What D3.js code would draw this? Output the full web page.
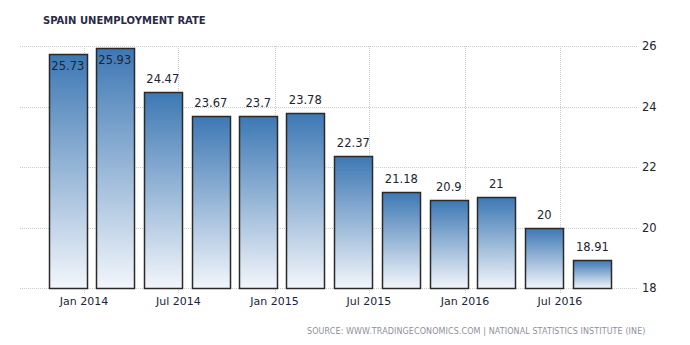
<!DOCTYPE html>
<html>
<head>
<meta charset="utf-8">
<script src="https://cdn.jsdelivr.net/npm/d3@7"></script>
<style>
  body { margin: 0; background: #fff; }
  text { font-family: "DejaVu Sans", Verdana, sans-serif; }
</style>
</head>
<body>
<div id="chart"></div>
<script>
// quarterly data, bars centred on these months
const quarters = ["2013-12", "2014-03", "2014-06", "2014-09", "2014-12", "2015-03",
                  "2015-06", "2015-09", "2015-12", "2016-03", "2016-06", "2016-09"];
const rates = [25.73, 25.93, 24.47, 23.67, 23.7, 23.78, 22.37, 21.18, 20.9, 21, 20, 18.91];
const xTicks = ["2014-01", "2014-07", "2015-01", "2015-07", "2016-01", "2016-07"];
const yTicks = [18, 20, 22, 24, 26];

function main() {
    const W = 690, H = 345;
    const plot = {left: 20, right: 637, top: 46, bottom: 288};
    const parse = d3.timeParse("%Y-%m");

    const data = quarters.map((q, i) => ({date: parse(q), value: rates[i]}));

    const svg = d3.select("#chart")
        .append("svg")
        .attr("width", W)
        .attr("height", H);

    // gradient for bars, dark blue at the top fading to white
    const grad = svg.append("defs").append("linearGradient")
        .attr("id", "barGrad")
        .attr("x1", 0).attr("y1", 0).attr("x2", 0).attr("y2", 1);
    grad.append("stop").attr("offset", "0%").attr("stop-color", "#3d78b4");
    grad.append("stop").attr("offset", "100%").attr("stop-color", "#f3f6fb");

    const x = d3.scaleTime()
        .domain([parse("2014-01"), parse("2016-07")])
        .range([84, 560]);

    const y = d3.scaleLinear()
        .domain([18, 26])
        .range([plot.bottom, plot.top]);

    // horizontal grid
    svg.append("g")
        .selectAll("line")
        .data(yTicks)
        .enter()
        .append("line")
        .attr("x1", plot.left)
        .attr("x2", plot.right)
        .attr("y1", d => Math.round(y(d)) + 0.5)
        .attr("y2", d => Math.round(y(d)) + 0.5)
        .attr("stroke", "#cccccc")
        .attr("stroke-dasharray", "1,1");

    // vertical grid
    svg.append("g")
        .selectAll("line")
        .data(xTicks)
        .enter()
        .append("line")
        .attr("x1", d => Math.round(x(parse(d))) + 0.5)
        .attr("x2", d => Math.round(x(parse(d))) + 0.5)
        .attr("y1", plot.top)
        .attr("y2", plot.bottom + 5)
        .attr("stroke", "#cccccc")
        .attr("stroke-dasharray", "1,1");

    const barW = 38;

    svg.append("g")
        .selectAll("rect")
        .data(data)
        .enter()
        .append("rect")
        .attr("x", d => Math.round(x(d.date) - barW / 2) + 0.5)
        .attr("y", d => Math.round(y(d.value)) + 0.5)
        .attr("width", barW)
        .attr("height", d => Math.round(y(18)) - Math.round(y(d.value)))
        .attr("fill", "url(#barGrad)")
        .attr("stroke", "#2a2a2a")
        .attr("stroke-width", 1.5);

    // value labels: above the bar, or inside when the bar reaches the top
    svg.append("g")
        .selectAll("text")
        .data(data)
        .enter()
        .append("text")
        .attr("x", d => x(d.date))
        .attr("y", d => d.value > 25 ? y(d.value) + 16 : y(d.value) - 9)
        .attr("text-anchor", "middle")
        .attr("font-size", "11.5px")
        .attr("fill", "#1e2430")
        .text(d => d.value);

    // y axis labels on the right
    svg.append("g")
        .selectAll("text")
        .data(yTicks)
        .enter()
        .append("text")
        .attr("x", 642)
        .attr("y", d => y(d) + 4)
        .attr("font-size", "11.5px")
        .attr("fill", "#22242e")
        .text(d => d);

    // x axis labels
    const fmt = d3.timeFormat("%b %Y");
    svg.append("g")
        .selectAll("text")
        .data(xTicks)
        .enter()
        .append("text")
        .attr("x", d => x(parse(d)))
        .attr("y", 305)
        .attr("text-anchor", "middle")
        .attr("font-size", "11px")
        .attr("fill", "#20233a")
        .text(d => fmt(parse(d)));

    svg.append("text")
        .attr("x", 43)
        .attr("y", 24)
        .attr("font-family", "DejaVu Sans Condensed")
        .attr("font-weight", "bold")
        .attr("font-size", "10px")
        .attr("fill", "#2a2a48")
        .text("SPAIN UNEMPLOYMENT RATE");

    svg.append("text")
        .attr("x", 307)
        .attr("y", 334)
        .attr("font-family", "DejaVu Sans Condensed")
        .attr("font-size", "8px")
        .attr("letter-spacing", "0.1px")
        .attr("fill", "#8f8f9c")
        .text("SOURCE: WWW.TRADINGECONOMICS.COM  |  NATIONAL STATISTICS INSTITUTE (INE)");
}

main()
</script>
</body>
</html>
